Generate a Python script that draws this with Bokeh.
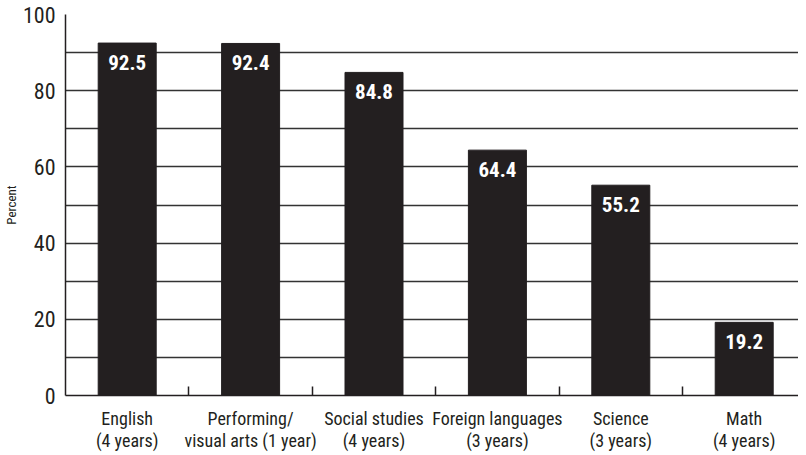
from bokeh.plotting import figure
from bokeh.models import Range1d, FixedTicker, ColumnDataSource
from bokeh.embed import file_html
from bokeh.resources import INLINE
from bokeh.core.properties import value

categories = ["English\n(4 years)", "Performing/\nvisual arts (1 year)", "Social studies\n(4 years)",
              "Foreign languages\n(3 years)", "Science\n(3 years)", "Math\n(4 years)"]
percents = [92.5, 92.4, 84.8, 64.4, 55.2, 19.2]
y_ticks = [0, 20, 40, 60, 80, 100]

FONT = "Roboto Condensed"
INK = "#231f20"

xs = [i + 0.5 for i in range(len(categories))]
src = ColumnDataSource(dict(x=xs, top=percents, lab=[f"{v:.1f}" for v in percents]))

p = figure(width=798, height=453, output_backend="svg", toolbar_location=None,
           x_range=Range1d(0, 5.94), y_range=Range1d(0, 100),
           min_border_left=54, min_border_top=14, min_border_bottom=54, min_border_right=0)
p.outline_line_color = None

p.vbar(x="x", top="top", width=0.47, source=src, fill_color=INK, line_color=INK)
p.text(x="x", y="top", text="lab", source=src, text_align="center", text_baseline="top",
       y_offset=12, text_color="white", text_font=value(FONT), text_font_size="21px",
       text_font_style="bold")

# y axis
p.yaxis.ticker = FixedTicker(ticks=y_ticks)
p.yaxis.major_tick_line_color = None
p.yaxis.minor_tick_line_color = None
p.yaxis.axis_line_color = INK
p.yaxis.axis_line_width = 1.5
p.yaxis.major_label_text_font = FONT
p.yaxis.major_label_text_font_size = "22px"
p.yaxis.major_label_text_color = INK
p.yaxis.major_label_standoff = 4
p.yaxis.axis_label = "Percent"
p.yaxis.axis_label_text_font = FONT
p.yaxis.axis_label_text_font_size = "13px"
p.yaxis.axis_label_text_font_style = "normal"
p.yaxis.axis_label_text_color = INK
p.yaxis.axis_label_standoff = 1

# x axis
p.xaxis.ticker = FixedTicker(ticks=xs, minor_ticks=[1, 2, 3, 4, 5])
p.xaxis.major_label_overrides = {x: c for x, c in zip(xs, categories)}
p.xaxis.major_tick_line_color = None
p.xaxis.minor_tick_in = 9
p.xaxis.minor_tick_out = 0
p.xaxis.minor_tick_line_color = INK
p.xaxis.minor_tick_line_width = 1.5
p.xaxis.axis_line_color = INK
p.xaxis.axis_line_width = 1.5
p.xaxis.major_label_text_font = FONT
p.xaxis.major_label_text_font_size = "18px"
p.xaxis.major_label_text_line_height = 1.05
p.xaxis.major_label_text_color = INK
p.xaxis.major_label_standoff = 6

p.xgrid.grid_line_color = None
p.ygrid.ticker = FixedTicker(ticks=list(range(0, 101, 10)))
p.ygrid.grid_line_color = "#333333"
p.ygrid.grid_line_width = 1.5

open("out.html", "w").write(file_html(p, INLINE))
